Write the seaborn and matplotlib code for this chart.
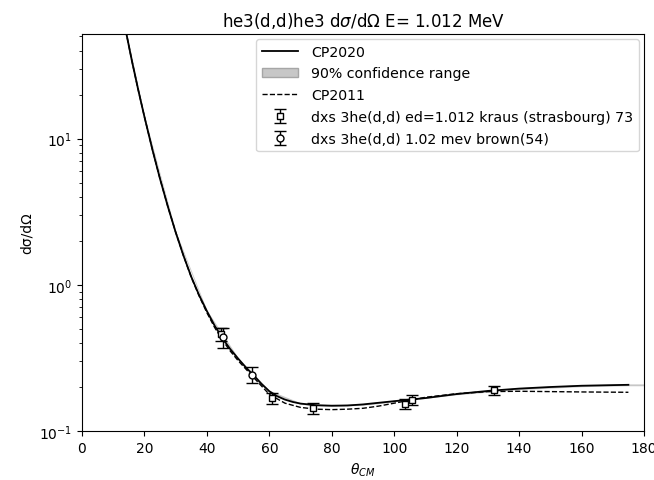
import numpy as np
import pandas as pd
import matplotlib
matplotlib.use("Agg")
import matplotlib.pyplot as plt
import seaborn as sns
from matplotlib.patches import Patch
from matplotlib.lines import Line2D

# CP2020 curve
theta_2020 = [14, 16, 18, 20, 22.5, 25, 27.5, 30, 32.5, 35, 37.5, 40, 42.5, 45, 47.5, 50,
              52.5, 55, 57.5, 60, 62.5, 65, 67.5, 70, 75, 80, 85, 90, 100, 110, 120, 130,
              140, 150, 160, 170, 175]
xs_2020 = [55, 33.9, 21.6, 14.1, 8.5, 5.3, 3.43, 2.29, 1.585, 1.135, 0.851, 0.661, 0.525,
           0.431, 0.363, 0.313, 0.272, 0.240, 0.210, 0.187, 0.173, 0.164, 0.158, 0.154,
           0.150, 0.149, 0.1495, 0.152, 0.160, 0.168, 0.179, 0.188, 0.195, 0.200, 0.204,
           0.206, 0.207]
# 90% confidence band
theta_band = [14, 20, 30, 40, 50, 60, 70, 80, 90, 100, 120, 140, 160, 175, 180]
band_lo = [53.5, 13.8, 2.25, 0.650, 0.308, 0.184, 0.152, 0.147, 0.150, 0.158, 0.177, 0.192, 0.201, 0.204, 0.204]
band_hi = [56.5, 14.4, 2.33, 0.672, 0.318, 0.190, 0.156, 0.151, 0.154, 0.162, 0.181, 0.198, 0.207, 0.210, 0.210]

# CP2011 curve
theta_2011 = [14, 16, 18, 20, 22.5, 25, 27.5, 30, 32.5, 35, 37.5, 40, 42.5, 45, 47.5, 50,
              55, 60, 65, 70, 75, 80, 85, 90, 95, 100, 110, 120, 130, 140, 150, 160, 175]
xs_2011 = [55, 33.9, 21.6, 14.1, 8.5, 5.3, 3.43, 2.29, 1.58, 1.125, 0.84, 0.645, 0.51,
           0.418, 0.352, 0.303, 0.232, 0.178, 0.155, 0.145, 0.141, 0.140, 0.141, 0.143,
           0.148, 0.155, 0.170, 0.180, 0.186, 0.187, 0.186, 0.185, 0.184]

# Data: kraus (strasbourg) 73 - squares
theta_kraus = [44.5, 61.0, 74.0, 103.5, 105.7, 132.0]
xs_kraus = [0.46, 0.168, 0.143, 0.153, 0.163, 0.190]
err_kraus = [0.05, 0.014, 0.012, 0.012, 0.012, 0.014]

# Data: brown(54) - circles
theta_brown = [45.2, 54.5]
xs_brown = [0.44, 0.242]
err_brown = [0.07, 0.03]

fig, ax = plt.subplots(figsize=(6.54, 4.81), dpi=100)
fig.subplots_adjust(left=82/654, right=644/654, top=1-35/481, bottom=1-432/481)

ax.fill_between(theta_band, band_lo, band_hi, color="0.78", lw=0, zorder=1)
df20 = pd.DataFrame({"theta": theta_2020, "xs": xs_2020})
df11 = pd.DataFrame({"theta": theta_2011, "xs": xs_2011})
sns.lineplot(data=df20, x="theta", y="xs", ax=ax, color="black", lw=1.3, zorder=3)
sns.lineplot(data=df11, x="theta", y="xs", ax=ax, color="black", lw=1.0, ls="--", zorder=3)

eb1 = ax.errorbar(theta_kraus, xs_kraus, yerr=err_kraus, fmt="s", mfc="white", mec="black",
                  ecolor="black", ms=5, capsize=4, elinewidth=1, zorder=4)
eb2 = ax.errorbar(theta_brown, xs_brown, yerr=err_brown, fmt="o", mfc="white", mec="black",
                  ecolor="black", ms=5, capsize=4, elinewidth=1, zorder=4)

ax.set_yscale("log")
ax.set_xlim(0, 180)
ax.set_ylim(0.1, 52)
ax.set_xticks(range(0, 181, 20))
ax.set_xlabel(r"$\theta_{CM}$")
ax.set_ylabel("dσ/dΩ")
ax.set_title(r"he3(d,d)he3 d$\sigma$/dΩ E= 1.012 MeV")

handles = [Line2D([], [], color="black", lw=1.3),
           Patch(facecolor="0.78", edgecolor="0.65"),
           Line2D([], [], color="black", lw=1.0, ls="--"),
           eb1, eb2]
labels = ["CP2020", "90% confidence range", "CP2011",
          "dxs 3he(d,d) ed=1.012 kraus (strasbourg) 73",
          "dxs 3he(d,d) 1.02 mev brown(54)"]
ax.legend(handles, labels, loc="upper right", fontsize=10.2, handlelength=2.6,
          handletextpad=0.9, labelspacing=0.55, borderaxespad=0.35)

fig.savefig("out.png", dpi=100)
